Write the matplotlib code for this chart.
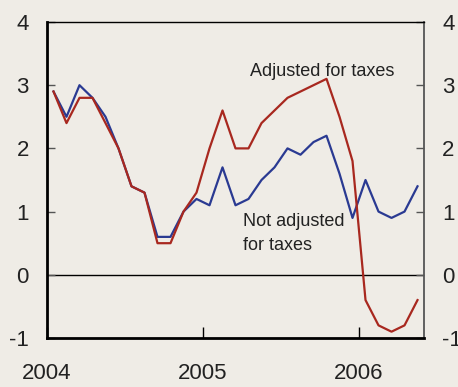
import numpy as np
import matplotlib
matplotlib.use("Agg")
import matplotlib.pyplot as plt

# =====================================
# Data (monthly, Jan 2004 - May 2006)
# =====================================

months = np.arange(29) + 0.5  # months since Jan 2004, mid-month

not_adjusted = [2.9, 2.5, 3.0, 2.8, 2.5, 2.0, 1.4, 1.3, 0.6, 0.6, 1.0, 1.2,
                1.1, 1.7, 1.1, 1.2, 1.5, 1.7, 2.0, 1.9, 2.1, 2.2, 1.6, 0.9,
                1.5, 1.0, 0.9, 1.0, 1.4]

adjusted = [2.9, 2.4, 2.8, 2.8, 2.4, 2.0, 1.4, 1.3, 0.5, 0.5, 1.0, 1.3,
            2.0, 2.6, 2.0, 2.0, 2.4, 2.6, 2.8, 2.9, 3.0, 3.1, 2.5, 1.8,
            -0.4, -0.8, -0.9, -0.8, -0.4]

year_ticks = [0, 12, 24]
year_labels = ["2004", "2005", "2006"]
y_ticks = [-1, 0, 1, 2, 3, 4]

# =====================================
# Style
# =====================================

plt.rcParams['font.family'] = ['Liberation Sans', 'DejaVu Sans']

bg = "#efece6"
blue = "#2a3a92"
red = "#a8281f"
ink = "#222222"

fig = plt.figure(figsize=(4.58, 3.87), dpi=100, facecolor=bg)
ax = fig.add_axes([0.1026, 0.1266, 0.8232, 0.8166], facecolor=bg)

ax.axhline(0, color="black", lw=1.0, zorder=1)

ax.plot(months, adjusted, color=red, lw=1.6, zorder=3)
ax.plot(months, not_adjusted, color=blue, lw=1.6, zorder=2)

ax.set_xlim(0, 29)
ax.set_ylim(-1, 4)

ax.set_xticks(year_ticks)
ax.set_xticklabels(year_labels, fontsize=16, color=ink)
ax.set_yticks(y_ticks)
ax.set_yticklabels([str(v) for v in y_ticks], fontsize=16, color=ink)

ax.tick_params(axis="y", direction="in", length=6, width=1, color="#555555",
               pad=13, right=True, labelright=True)
ax.tick_params(axis="x", direction="in", length=8, width=1, color="black", pad=18)

ax.spines["left"].set_linewidth(2)
ax.spines["bottom"].set_linewidth(2)
ax.spines["top"].set_linewidth(1)
ax.spines["right"].set_linewidth(1.3)
ax.spines["right"].set_color("#555555")

# =====================================
# Labels
# =====================================

ax.text(15.6, 3.15, "Adjusted for taxes", fontsize=13, color=ink, va="baseline")
ax.text(15.1, 0.78, "Not adjusted", fontsize=13, color=ink, va="baseline")
ax.text(15.1, 0.40, "for taxes", fontsize=13, color=ink, va="baseline")

fig.savefig("out.png", dpi=100, facecolor=bg)
